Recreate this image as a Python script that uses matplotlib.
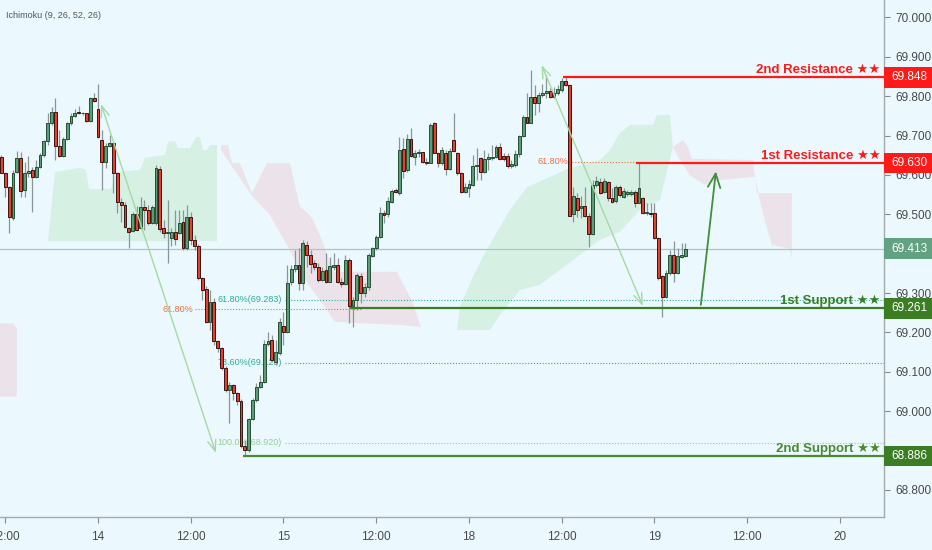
import numpy as np
import matplotlib
matplotlib.use("Agg")
import matplotlib.pyplot as plt
from matplotlib.patches import Rectangle
from matplotlib.transforms import blended_transform_factory

plt.rcParams['font.family'] = ['Liberation Sans', 'DejaVu Sans']

# ---------------- data (30-minute candles, index 0 = day 14 00:00) ----------------
START = -25
opens = [
 69.646, 69.606, 69.569, 69.490, 69.608, 69.642, 69.562, 69.604, 69.613, 69.596,
 69.620, 69.651, 69.685, 69.731, 69.759, 69.674, 69.648, 69.691, 69.733, 69.750,
 69.761, 69.757, 69.757, 69.738, 69.795,
 69.767, 69.689, 69.634, 69.674, 69.680, 69.604, 69.532, 69.524, 69.465, 69.458,
 69.501, 69.465, 69.519, 69.511, 69.478, 69.478, 69.615, 69.465, 69.453, 69.439,
 69.456, 69.453, 69.481, 69.414, 69.492, 69.435, 69.420, 69.338, 69.310, 69.227,
 69.278, 69.177, 69.160, 69.109, 69.054, 69.067, 69.045, 69.027, 68.912, 68.901,
 68.980, 69.028, 69.062, 69.075, 69.171, 69.181, 69.125, 69.148, 69.216, 69.202,
 69.328, 69.360, 69.371, 69.325, 69.422, 69.397, 69.376, 69.366, 69.333, 69.359,
 69.329, 69.367, 69.371, 69.329, 69.323, 69.384, 69.268, 69.282, 69.343, 69.299,
 69.316, 69.395, 69.414, 69.442, 69.503, 69.501, 69.532, 69.562, 69.553, 69.665,
 69.613, 69.691, 69.646, 69.655, 69.658, 69.634, 69.631, 69.731, 69.657, 69.630,
 69.657, 69.614, 69.689, 69.655, 69.606, 69.557, 69.566, 69.575, 69.623, 69.642,
 69.608, 69.640, 69.642, 69.645, 69.670, 69.649, 69.649, 69.623, 69.625, 69.653,
 69.699, 69.746, 69.733, 69.797, 69.782, 69.803, 69.807, 69.814, 69.797, 69.807,
 69.816, 69.839, 69.829, 69.501, 69.542, 69.516, 69.521, 69.495, 69.449, 69.575,
 69.583, 69.557, 69.581, 69.542, 69.535, 69.569, 69.545, 69.552, 69.552, 69.556,
 69.530, 69.541, 69.503, 69.504, 69.503, 69.439, 69.343, 69.291, 69.352, 69.397,
 69.352, 69.391, 69.394]
closes = [
 69.606, 69.569, 69.492, 69.606, 69.642, 69.560, 69.604, 69.611, 69.596, 69.620,
 69.651, 69.685, 69.731, 69.759, 69.674, 69.648, 69.691, 69.733, 69.750, 69.758,
 69.757, 69.758, 69.738, 69.795, 69.788,
 69.696, 69.634, 69.674, 69.680, 69.604, 69.532, 69.524, 69.467, 69.456, 69.501,
 69.460, 69.519, 69.511, 69.478, 69.519, 69.618, 69.463, 69.453, 69.456, 69.456,
 69.437, 69.479, 69.414, 69.494, 69.435, 69.420, 69.338, 69.308, 69.227, 69.278,
 69.177, 69.160, 69.109, 69.054, 69.067, 69.045, 69.027, 68.912, 68.901, 68.980,
 69.028, 69.062, 69.075, 69.171, 69.179, 69.130, 69.151, 69.227, 69.202, 69.326,
 69.360, 69.371, 69.325, 69.426, 69.397, 69.374, 69.366, 69.333, 69.357, 69.329,
 69.369, 69.371, 69.329, 69.323, 69.384, 69.268, 69.282, 69.346, 69.299, 69.316,
 69.397, 69.414, 69.443, 69.503, 69.498, 69.535, 69.559, 69.556, 69.663, 69.611,
 69.691, 69.649, 69.657, 69.659, 69.632, 69.631, 69.727, 69.657, 69.630, 69.663,
 69.614, 69.662, 69.662, 69.606, 69.557, 69.569, 69.576, 69.623, 69.625, 69.608,
 69.640, 69.645, 69.646, 69.672, 69.640, 69.640, 69.623, 69.628, 69.653, 69.699,
 69.748, 69.733, 69.797, 69.782, 69.803, 69.807, 69.812, 69.799, 69.809, 69.818,
 69.839, 69.829, 69.496, 69.547, 69.511, 69.521, 69.495, 69.449, 69.575, 69.585,
 69.553, 69.585, 69.542, 69.531, 69.569, 69.548, 69.559, 69.556, 69.556, 69.528,
 69.568, 69.503, 69.505, 69.501, 69.439, 69.338, 69.291, 69.352, 69.397, 69.352,
 69.394, 69.397, 69.413]
highs = [
 69.651, 69.607, 69.572, 69.613, 69.662, 69.659, 69.634, 69.648, 69.621, 69.638,
 69.655, 69.689, 69.757, 69.772, 69.795, 69.714, 69.696, 69.735, 69.758, 69.767,
 69.775, 69.761, 69.758, 69.797, 69.809,
 69.831, 69.714, 69.680, 69.702, 69.682, 69.608, 69.541, 69.532, 69.469, 69.507,
 69.521, 69.543, 69.536, 69.524, 69.524, 69.625, 69.623, 69.486, 69.536, 69.465,
 69.511, 69.511, 69.511, 69.524, 69.506, 69.448, 69.425, 69.341, 69.318, 69.308,
 69.287, 69.181, 69.163, 69.115, 69.074, 69.069, 69.049, 69.031, 68.927, 68.983,
 69.034, 69.072, 69.092, 69.181, 69.201, 69.194, 69.181, 69.237, 69.252, 69.371,
 69.371, 69.409, 69.415, 69.435, 69.431, 69.409, 69.384, 69.376, 69.367, 69.402,
 69.392, 69.401, 69.388, 69.338, 69.397, 69.388, 69.291, 69.350, 69.350, 69.325,
 69.401, 69.418, 69.448, 69.519, 69.511, 69.545, 69.564, 69.566, 69.697, 69.694,
 69.704, 69.719, 69.663, 69.665, 69.659, 69.643, 69.732, 69.735, 69.659, 69.672,
 69.663, 69.668, 69.757, 69.659, 69.608, 69.580, 69.587, 69.651, 69.668, 69.646,
 69.663, 69.655, 69.676, 69.676, 69.680, 69.656, 69.656, 69.638, 69.663, 69.702,
 69.752, 69.807, 69.867, 69.829, 69.811, 69.831, 69.854, 69.820, 69.824, 69.829,
 69.846, 69.848, 69.831, 69.570, 69.553, 69.547, 69.570, 69.503, 69.587, 69.597,
 69.592, 69.592, 69.585, 69.566, 69.575, 69.575, 69.566, 69.562, 69.562, 69.562,
 69.630, 69.545, 69.528, 69.528, 69.528, 69.443, 69.346, 69.359, 69.409, 69.431,
 69.414, 69.426, 69.426]
lows = [
 69.604, 69.545, 69.452, 69.486, 69.604, 69.545, 69.545, 69.596, 69.507, 69.592,
 69.617, 69.646, 69.676, 69.727, 69.638, 69.645, 69.646, 69.689, 69.727, 69.747,
 69.754, 69.752, 69.735, 69.735, 69.786,
 69.693, 69.562, 69.617, 69.672, 69.553, 69.503, 69.481, 69.465, 69.414, 69.456,
 69.458, 69.462, 69.460, 69.473, 69.475, 69.473, 69.455, 69.440, 69.376, 69.420,
 69.422, 69.450, 69.409, 69.409, 69.422, 69.409, 69.333, 69.282, 69.224, 69.206,
 69.168, 69.150, 69.105, 69.049, 68.970, 69.028, 69.016, 68.907, 68.886, 68.896,
 68.978, 69.023, 69.059, 69.072, 69.166, 69.125, 69.117, 69.143, 69.168, 69.199,
 69.321, 69.354, 69.308, 69.308, 69.367, 69.350, 69.359, 69.329, 69.331, 69.326,
 69.329, 69.359, 69.325, 69.316, 69.321, 69.224, 69.215, 69.257, 69.274, 69.291,
 69.308, 69.392, 69.409, 69.440, 69.477, 69.494, 69.528, 69.553, 69.549, 69.592,
 69.608, 69.646, 69.625, 69.646, 69.630, 69.625, 69.630, 69.655, 69.621, 69.625,
 69.600, 69.613, 69.659, 69.600, 69.553, 69.553, 69.545, 69.572, 69.587, 69.587,
 69.604, 69.613, 69.638, 69.642, 69.638, 69.636, 69.617, 69.618, 69.620, 69.646,
 69.697, 69.731, 69.731, 69.752, 69.761, 69.799, 69.795, 69.795, 69.795, 69.803,
 69.811, 69.826, 69.495, 69.481, 69.494, 69.490, 69.494, 69.416, 69.448, 69.570,
 69.552, 69.555, 69.535, 69.528, 69.530, 69.545, 69.541, 69.547, 69.547, 69.519,
 69.528, 69.501, 69.498, 69.494, 69.437, 69.333, 69.240, 69.287, 69.346, 69.329,
 69.348, 69.388, 69.392]

x_tick_pos = [-24, 0, 24, 48, 72, 96, 120, 144, 168, 192]
x_tick_labels = ['12:00', '14', '12:00', '15', '12:00', '18', '12:00', '19', '12:00', '20']
y_ticks = [68.8, 68.9, 69.0, 69.1, 69.2, 69.3, 69.4, 69.5, 69.6, 69.7, 69.8, 69.9, 70.0]
y_ticks_hidden = [68.9, 69.4]   # covered by the price boxes in the original

# Ichimoku cloud outlines (index, price)
pinkL_top_x = [-25.5, -21.9, -21.0]
pinkL_top_y = [69.223, 69.223, 69.210]
pinkL_bot_x = [-25.5, -21.0]
pinkL_bot_y = [69.037, 69.037]

green1_top_x = [-12.94, -11.13, -4.66, -3.10, -2.33, 3.36, 4.40, 10.87, 12.16, 17.34,
                18.11, 19.92, 20.70, 23.80, 25.36, 26.39, 27.17, 28.20, 28.98, 30.79]
green1_top_y = [69.432, 69.607, 69.618, 69.613, 69.564, 69.564, 69.607, 69.613, 69.643, 69.651,
                69.684, 69.686, 69.668, 69.668, 69.696, 69.696, 69.663, 69.663, 69.676, 69.676]
green1_bot_x = [-12.94, 30.79]
green1_bot_y = [69.432, 69.432]

pink1_top_x = [31.82, 33.64, 34.67, 36.74, 39.84, 43.73, 49.68, 52.26, 54.33, 55.63,
               57.96, 60.80, 77.36, 81.50, 83.57]
pink1_top_y = [69.676, 69.676, 69.630, 69.630, 69.554, 69.630, 69.630, 69.519, 69.503, 69.486,
               69.435, 69.354, 69.354, 69.275, 69.214]
pink1_bot_x = [31.82, 39.84, 44.50, 49.68, 53.56, 57.44, 61.32, 78.14, 83.57]
pink1_bot_y = [69.663, 69.547, 69.498, 69.409, 69.333, 69.282, 69.227, 69.219, 69.214]

green2_top_x = [92.89, 93.66, 97.02, 99.61, 104.01, 106.60, 111.0, 116.95, 122.12, 129.88,
                132.47, 135.06, 137.65, 143.6, 144.63, 148.0, 148.77]
green2_top_y = [69.206, 69.265, 69.341, 69.392, 69.468, 69.511, 69.569, 69.595, 69.618, 69.638,
                69.663, 69.707, 69.727, 69.727, 69.752, 69.752, 69.671]
green2_bot_x = [92.89, 101.42, 104.01, 109.18, 114.36, 119.53, 124.71, 129.88, 135.06, 140.23,
                145.41, 148.77]
green2_bot_y = [69.206, 69.206, 69.244, 69.308, 69.321, 69.359, 69.397, 69.435, 69.455, 69.511,
                69.536, 69.671]

pink2_top_x = [148.77, 151.36, 152.65, 153.69, 169.47, 170.51, 179.56, 179.56]
pink2_top_y = [69.671, 69.689, 69.671, 69.641, 69.638, 69.554, 69.554, 69.387]
pink2_bot_x = [148.77, 150.58, 153.17, 157.05, 160.93, 169.99, 171.28, 172.57, 174.39, 179.04, 179.56]
pink2_bot_y = [69.671, 69.638, 69.600, 69.575, 69.587, 69.595, 69.536, 69.483, 69.422, 69.412, 69.387]

last_price = 69.413
resistance_2, resistance_2_from = 69.848, 120.3
resistance_1, resistance_1_from = 69.630, 139.2
support_1, support_1_from = 69.261, 65.2
support_2, support_2_from = 68.886, 37.5

fib_teal_levels = [69.283, 69.123]
fib_teal_labels = ['61.80%(69.283)', '78.60%(69.123)']
fib_full_level, fib_full_label = 68.920, '100.0%(68.920)'
fib_label_end = 47.6
orange_low_level, orange_low_from, orange_low_to = 69.259, 25.0, 68.0
orange_top_level, orange_top_from, orange_top_to = 69.633, 122.0, 140.0

arrow1 = ((0.8, 69.780), (30.5, 68.894))
arrow2 = ((114.8, 69.879), (141.0, 69.267))
arrow3 = ((156.0, 69.270), (159.9, 69.609))

# ---------------- styling ----------------
BG = '#ebf8fd'
GREEN_BODY, GREEN_EDGE = '#5a9e77', '#264f33'
RED_BODY, RED_EDGE = '#e63f2e', '#3a1510'
WICK = '#8a9696'
RES_RED = '#ff1a1a'
SUP_GREEN = '#3b7d23'
TEAL = '#2bab9c'
LGREEN = '#94cf94'
ORANGE = '#f26c3f'

XMIN, XMAX = -25.36, 203.4
YMIN, YMAX = 68.7312, 70.0444

fig = plt.figure(figsize=(9.32, 5.5), dpi=100)
fig.patch.set_facecolor(BG)
ax = fig.add_axes([0, 1 - 517 / 550, 884 / 932, 517 / 550])
ax.set_facecolor(BG)
ax.set_xlim(XMIN, XMAX)
ax.set_ylim(YMIN, YMAX)

# cloud
def cloud(tx, ty, bx, by, color):
    xs = list(tx) + list(bx)[::-1]
    ys = list(ty) + list(by)[::-1]
    ax.fill(xs, ys, color=color, lw=0, zorder=1)

CG, CP = '#d6f1e4', '#ece3ea'
cloud(pinkL_top_x, pinkL_top_y, pinkL_bot_x, pinkL_bot_y, CP)
cloud(green1_top_x, green1_top_y, green1_bot_x, green1_bot_y, CG)
cloud(pink1_top_x, pink1_top_y, pink1_bot_x, pink1_bot_y, CP)
cloud(green2_top_x, green2_top_y, green2_bot_x, green2_bot_y, CG)
cloud(pink2_top_x, pink2_top_y, pink2_bot_x, pink2_bot_y, CP)

# last price line
ax.axhline(last_price, color='#a9c8c0', lw=0.9, zorder=1.5)

# fib lines and labels
dot = (0, (1, 1.6))
for lvl, lab in zip(fib_teal_levels, fib_teal_labels):
    ax.plot([fib_label_end + 0.9, XMAX], [lvl, lvl], color=TEAL, lw=0.8, ls=dot, zorder=2)
    ax.text(fib_label_end, lvl, lab, color=TEAL, fontsize=6.5, ha='right', va='center', zorder=2)
ax.plot([fib_label_end + 0.9, XMAX], [fib_full_level] * 2, color=LGREEN, lw=0.8, ls=dot, zorder=2)
ax.text(fib_label_end, fib_full_level, fib_full_label, color=LGREEN, fontsize=6.5,
        ha='right', va='center', zorder=2)
ax.plot([orange_low_from, orange_low_to], [orange_low_level] * 2, color=ORANGE, lw=0.8, ls=dot, zorder=2)
ax.text(orange_low_from - 0.3, orange_low_level, '61.80%', color=ORANGE, fontsize=6.5,
        ha='right', va='center', zorder=2)
ax.plot([orange_top_from, orange_top_to], [orange_top_level] * 2, color=ORANGE, lw=0.8, ls=dot, zorder=2)
ax.text(orange_top_from - 0.3, orange_top_level, '61.80%', color=ORANGE, fontsize=6.5,
        ha='right', va='center', zorder=2)

# candles
idx = np.arange(START, START + len(closes))
o = np.array(opens); c = np.array(closes); h = np.array(highs); l = np.array(lows)
hi = np.maximum(h, np.maximum(o, c)); lo = np.minimum(l, np.minimum(o, c))
ax.vlines(idx, lo, hi, color=WICK, lw=0.9, zorder=3)
up = c >= o
body_bot = np.minimum(o, c)
body_h = np.maximum(np.abs(c - o), 0.0015)
ax.bar(idx[up], body_h[up], bottom=body_bot[up], width=0.74, color=GREEN_BODY,
       edgecolor=GREEN_EDGE, linewidth=0.7, zorder=3.2)
ax.bar(idx[~up], body_h[~up], bottom=body_bot[~up], width=0.74, color=RED_BODY,
       edgecolor=RED_EDGE, linewidth=0.7, zorder=3.2)

# arrows
ax.annotate('', xy=arrow1[1], xytext=arrow1[0],
            arrowprops=dict(arrowstyle='<->,head_length=0.8,head_width=0.3', color='#a5d9a5',
                            lw=1.0, shrinkA=0, shrinkB=0, mutation_scale=10), zorder=4)
ax.annotate('', xy=arrow2[1], xytext=arrow2[0],
            arrowprops=dict(arrowstyle='<->,head_length=0.8,head_width=0.3', color='#a5d9a5',
                            lw=1.0, shrinkA=0, shrinkB=0, mutation_scale=10), zorder=4)
ax.annotate('', xy=arrow3[1], xytext=arrow3[0],
            arrowprops=dict(arrowstyle='->,head_length=1.0,head_width=0.45', color='#3f8f3f',
                            lw=1.3, shrinkA=0, shrinkB=0, mutation_scale=10), zorder=4)

# support / resistance lines + labels
levels = [(resistance_2, resistance_2_from, RES_RED, '2nd Resistance ★★'),
          (resistance_1, resistance_1_from, RES_RED, '1st Resistance ★★'),
          (support_1, support_1_from, SUP_GREEN, '1st Support ★★'),
          (support_2, support_2_from, '#4a8a30', '2nd Support ★★')]
for lvl, x0, col, lab in levels:
    ax.plot([x0, XMAX], [lvl, lvl], color=col, lw=1.6, zorder=4.5, solid_capstyle='butt')
    ax.text(202.5, lvl + 0.0185, lab, color=col, fontsize=9.5, fontweight='bold',
            ha='right', va='center', zorder=5)

# axes styling
for s in ['left', 'top']:
    ax.spines[s].set_visible(False)
for s in ['right', 'bottom']:
    ax.spines[s].set_color('#a3abab')
    ax.spines[s].set_linewidth(1.0)
ax.yaxis.tick_right()
ax.set_yticks(y_ticks)
ax.set_yticklabels(['' if any(abs(v - hv) < 1e-9 for hv in y_ticks_hidden) else f'{v:.3f}'
                    for v in y_ticks])
ax.set_xticks(x_tick_pos)
ax.set_xticklabels(x_tick_labels)
ax.tick_params(axis='y', length=4, width=0.8, color='#8a8a8a', labelsize=8.5, labelcolor='#4a4a4a', pad=4)
ax.tick_params(axis='x', length=4, width=0.8, color='#8a8a8a', labelsize=8.5, labelcolor='#4a4a4a', pad=6)

# price boxes on the axis
trans = blended_transform_factory(ax.transAxes, ax.transData)
boxes = [(resistance_2, RES_RED), (resistance_1, RES_RED), (last_price, '#62a283'),
         (support_1, SUP_GREEN), (support_2, SUP_GREEN)]
for lvl, fc in boxes:
    ax.add_patch(Rectangle((1.0, lvl - 0.026), 0.06, 0.052, transform=trans, facecolor=fc,
                           edgecolor='none', clip_on=False, zorder=10))
    ax.text(1.0285, lvl, f'{lvl:.3f}', transform=trans, ha='center', va='center',
            color='white', fontsize=8.5, zorder=11, clip_on=False)

fig.text(6 / 932, 1 - 15 / 550, 'Ichimoku (9, 26, 52, 26)', ha='left', va='center',
         fontsize=6.5, color='#555555')

fig.savefig('out.png', dpi=100, facecolor=BG)
